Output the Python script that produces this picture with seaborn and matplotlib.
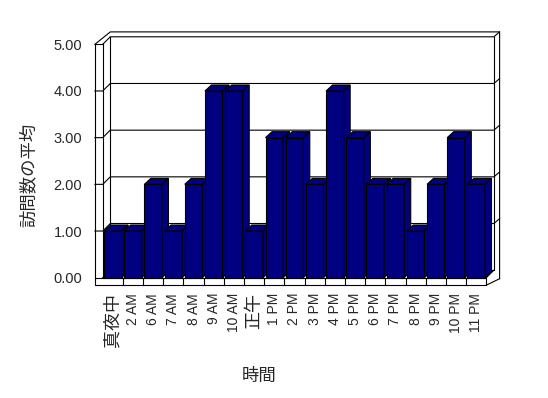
import numpy as np
import pandas as pd
import matplotlib
matplotlib.use("Agg")
import matplotlib.pyplot as plt
import seaborn as sns
from matplotlib.patches import Polygon
from matplotlib.lines import Line2D

# ---- data ----
hours = ["真夜中", "2 AM", "6 AM", "7 AM", "8 AM", "9 AM", "10 AM", "正午",
         "1 PM", "2 PM", "3 PM", "4 PM", "5 PM", "6 PM", "7 PM", "8 PM",
         "9 PM", "10 PM", "11 PM"]
visits = [1, 1, 2, 1, 2, 4, 4, 1, 3, 3, 2, 4, 3, 2, 2, 1, 2, 3, 2]
y_ticks = [0, 1, 2, 3, 4, 5]
x_title = "時間"
y_title = "訪問数の平均"

sns.set_style("white")
plt.rcParams["font.family"] = ["Liberation Sans", "Noto Sans CJK JP"]

W, H = 548, 398
fig = plt.figure(figsize=(W / 100, H / 100), dpi=100)
fig.patch.set_facecolor("white")

# front plane of the 3D box (pixels)
FL, FR, FB, FT = 102.7, 486.3, 277.7, 44.3
ax = fig.add_axes([FL / W, 1 - FB / H, (FR - FL) / W, (FB - FT) / H])

df = pd.DataFrame({"hour": hours, "visits": visits})
sns.barplot(data=df, x="hour", y="visits", order=hours, color="#000080",
            saturation=1, width=0.87, edgecolor="black", linewidth=0.8, ax=ax)
ax.set_xlim(-0.5, len(hours) - 0.5)
ax.set_ylim(y_ticks[0], y_ticks[-1])
for s in ax.spines.values():
    s.set_visible(False)
ax.patch.set_visible(False)
ax.grid(False)

SX = (FR - FL) / len(hours)
SY = (FB - FT) / (y_ticks[-1] - y_ticks[0])


def P(xp, yp):
    return (-0.5 + (xp - FL) / SX, (FB - yp) / SY)


def L(pts, z=1):
    xs, ys = zip(*[P(*p) for p in pts])
    ax.add_line(Line2D(xs, ys, color="black", lw=0.8, zorder=z, clip_on=False,
                       solid_capstyle="projecting"))


WT, DX, DY, BX, BY, TF = 7.8, 7.6, 7.5, 5.7, 4.9, 7.5

# back wall / floor (behind bars)
L([(FL - WT, FT), (FL + DX, FT - DY - BY), (FR + DX + BX, FT - DY - BY),
   (FR + DX + BX, FB + TF - 6.5)], z=1)
L([(FL, FT), (FL + DX, FT - DY), (FR + DX, FT - DY), (FR + DX + BX, FT - DY - BY)], z=1)
L([(FL + DX, FT - DY), (FL + DX, FB - DY), (FR + DX, FB - DY), (FR + DX, FT - DY)], z=1)
L([(FL, FB), (FL + DX, FB - DY)], z=1)
L([(FR, FB), (FR + DX, FB - DY)], z=1)
L([(FR, FB + TF), (FR + DX + BX, FB + TF - 6.5)], z=1)

# gridlines
for v in y_ticks[:-1]:
    yf = FB - (v - y_ticks[0]) * SY
    if v == y_ticks[0]:
        L([(FL - WT, yf), (FL, yf)], z=6)
    else:
        L([(FL - WT, yf), (FL, yf), (FL + DX, yf - DY), (FR + DX, yf - DY),
           (FR + DX + BX, yf - DY - BY)], z=1)

# front of left wall and floor
L([(FL - WT, FT), (FL, FT)], z=6)
L([(FL - WT, FT), (FL - WT, FB + TF), (FR, FB + TF), (FR, FB)], z=6)
L([(FL, FT), (FL, FB), (FR, FB)], z=6)
for i in range(1, len(hours)):
    xb = FL + i * SX
    L([(xb, FB), (xb, FB + TF)], z=6)

# 3D faces of bars
bdx, bdy = 6.5 / SX, 6.0 / SY
for i, p in enumerate(ax.patches):
    z = 3 + i * 0.01
    p.set_zorder(z)
    p.set_clip_on(False)
    x0, w, h = p.get_x(), p.get_width(), p.get_height()
    fc = p.get_facecolor()
    top = Polygon([(x0, h), (x0 + w, h), (x0 + w + bdx, h + bdy), (x0 + bdx, h + bdy)],
                  closed=True, facecolor=fc, edgecolor="black", lw=0.8,
                  zorder=z + 0.005, clip_on=False)
    side = Polygon([(x0 + w, 0), (x0 + w + bdx, bdy), (x0 + w + bdx, h + bdy), (x0 + w, h)],
                   closed=True, facecolor=fc, edgecolor="black", lw=0.8,
                   zorder=z + 0.005, clip_on=False)
    ax.add_patch(top)
    ax.add_patch(side)

# ticks
ax.set_xticks(range(len(hours)), labels=hours, rotation=90)
for lbl in ax.get_xticklabels():
    if any(ord(c) > 0x2E80 for c in lbl.get_text()):
        lbl.set_fontsize(13)
    else:
        lbl.set_fontsize(10)
ax.tick_params(axis="x", length=0, pad=11)
ax.set_yticks(y_ticks, labels=[f"{v:.2f}" for v in y_ticks])
ax.tick_params(axis="y", length=0, pad=14.9, labelsize=10.5)

ax.set_xlabel(x_title, fontsize=12.5)
ax.xaxis.set_label_coords((259 - FL) / (FR - FL), (FB - 375.5) / (FB - FT))
ax.xaxis.label.set_va("center")
ax.set_ylabel(y_title, fontsize=12.5)
ax.yaxis.set_label_coords((28.6 - FL) / (FR - FL), (FB - 174.7) / (FB - FT))
ax.yaxis.label.set_va("center")

fig.savefig("out.png", dpi=100)
